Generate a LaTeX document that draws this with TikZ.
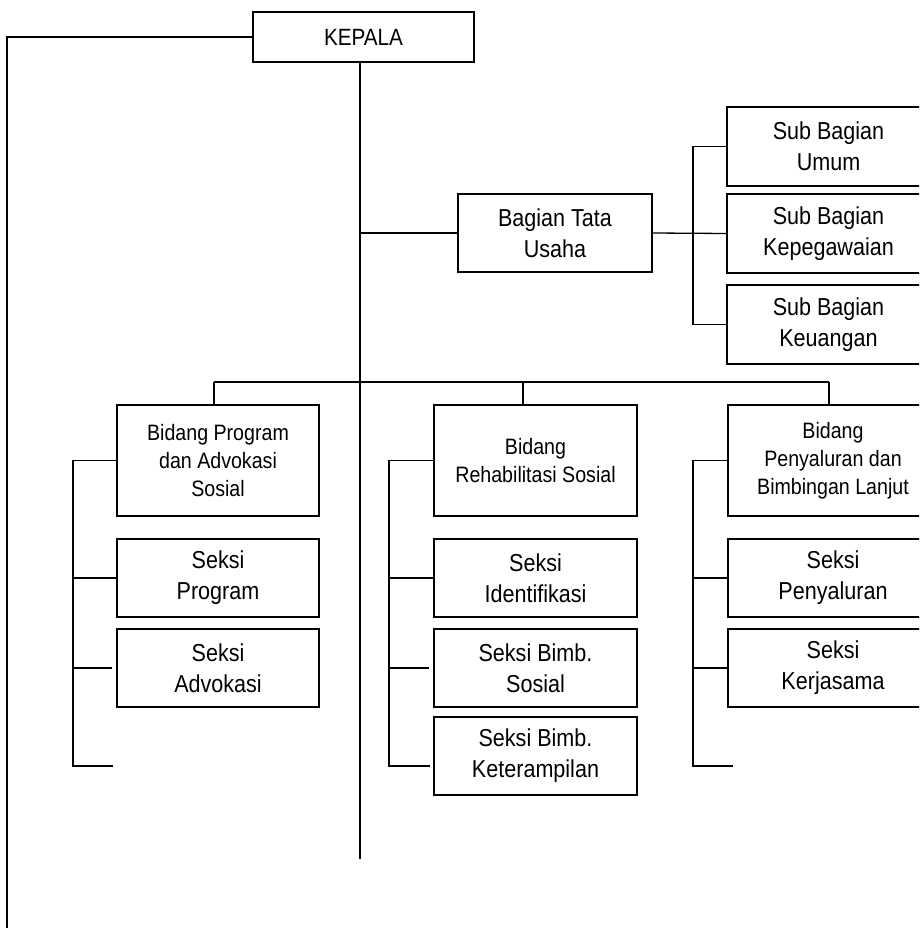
\documentclass[tikz,border=0pt]{standalone}
\usepackage{fontspec}
\setmainfont{Liberation Sans}
\newfontfamily\narrowfont{Liberation Sans}[FakeStretch=0.88]
\usetikzlibrary{calc}
\tikzset{
  box/.style={draw, line width=1.3pt, inner sep=0pt, align=center, text=black},
  boxL/.style={box, font=\narrowfont\fontsize{24.5}{31}\selectfont},
  boxK/.style={box, font=\narrowfont\fontsize{23.5}{30}\selectfont},
  boxB/.style={box, font=\narrowfont\fontsize{22.3}{28}\selectfont},
  conn/.style={line width=1.3pt}
}
\begin{document}
\begin{tikzpicture}[x=1pt,y=-1pt]
\useasboundingbox (0,0) rectangle (919,928);
\clip (0,0) rectangle (919,928);
% top
\node[boxK, minimum width=221pt, minimum height=50pt] (kepala) at (363.5,37) {KEPALA};
\node[boxL, minimum width=194pt, minimum height=78pt] (btu) at (555,233) {Bagian Tata\\Usaha};
\node[boxL, minimum width=203pt, minimum height=79pt] (sbu) at (828.5,146.5) {Sub Bagian\\Umum};
\node[boxL, minimum width=203pt, minimum height=79pt] (sbk) at (828.5,233.5) {Sub Bagian\\Kepegawaian};
\node[boxL, minimum width=203pt, minimum height=79pt] (sbku) at (828.5,324.5) {Sub Bagian\\Keuangan};
% left column
\node[boxB, minimum width=202pt, minimum height=111pt] (bp) at (218,460.5) {Bidang Program\\dan Advokasi\\Sosial};
\node[boxL, minimum width=202pt, minimum height=78pt] (sp) at (218,578) {Seksi\\Program};
\node[boxL, minimum width=202pt, minimum height=78pt] (sa) at (218,668) {Seksi\\Advokasi};
% middle column
\node[boxB, minimum width=203pt, minimum height=111pt] (br) at (535.5,460.5) {Bidang\\Rehabilitasi Sosial};
\node[boxL, minimum width=203pt, minimum height=78pt] (si) at (535.5,578) {Seksi\\Identifikasi};
\node[boxL, minimum width=203pt, minimum height=78pt] (sbs) at (535.5,668) {Seksi Bimb.\\Sosial};
\node[boxL, minimum width=203pt, minimum height=78pt] (sbket) at (535.5,756) {Seksi Bimb.\\Keterampilan};
% right column
\node[boxB, minimum width=210pt, minimum height=111pt] (bpl) at (833,460.5) {Bidang\\Penyaluran dan\\Bimbingan Lanjut};
\node[boxL, minimum width=210pt, minimum height=78pt] (spy) at (833,578) {Seksi\\Penyaluran};
\node[boxL, minimum width=210pt, minimum height=78pt] (sk) at (833,668) {Seksi\\Kerjasama};
% coordinates
\coordinate (outer) at (7,935);
\coordinate (spine) at (360,859);
\coordinate (sbx) at (693,233);
\coordinate (busL) at (214,382);
\coordinate (busM) at (523,382);
\coordinate (busR) at (829,382);
\coordinate (lb) at (73,766);
\coordinate (lbend) at (113,766);
\coordinate (mb) at (389,766);
\coordinate (mbend) at (430,766);
\coordinate (rb) at (693,766);
\coordinate (rbend) at (733,766);
% connectors
\draw[conn] (kepala.west) -| (outer);
\draw[conn] (kepala.south -| spine) -- (spine);
\draw[conn] (btu.west) -- (btu.west -| spine);
\draw[conn] (btu.east) -- (sbk.west);
\draw[conn] (sbu.west) -| (sbx) |- (sbku.west);
\draw[conn] (busL) -- (busR);
\draw[conn] (busL) -- (busL |- bp.north);
\draw[conn] (busM) -- (busM |- br.north);
\draw[conn] (busR) -- (busR |- bpl.north);
% left bracket
\draw[conn] (bp.west) -| (lb) -- (lbend);
\draw[conn] (sp.west) -- (sp.west -| lb);
\draw[conn] ($(sa.west)+(-4,0)$) -- (sa.west -| lb);
% middle bracket
\draw[conn] (br.west) -| (mb) -- (mbend);
\draw[conn] (si.west) -- (si.west -| mb);
\draw[conn] ($(sbs.west)+(-4,0)$) -- (sbs.west -| mb);
% right bracket
\draw[conn] (bpl.west) -| (rb) -- (rbend);
\draw[conn] (spy.west) -- (spy.west -| rb);
\draw[conn] (sk.west) -- (sk.west -| rb);
\end{tikzpicture}
\end{document}
